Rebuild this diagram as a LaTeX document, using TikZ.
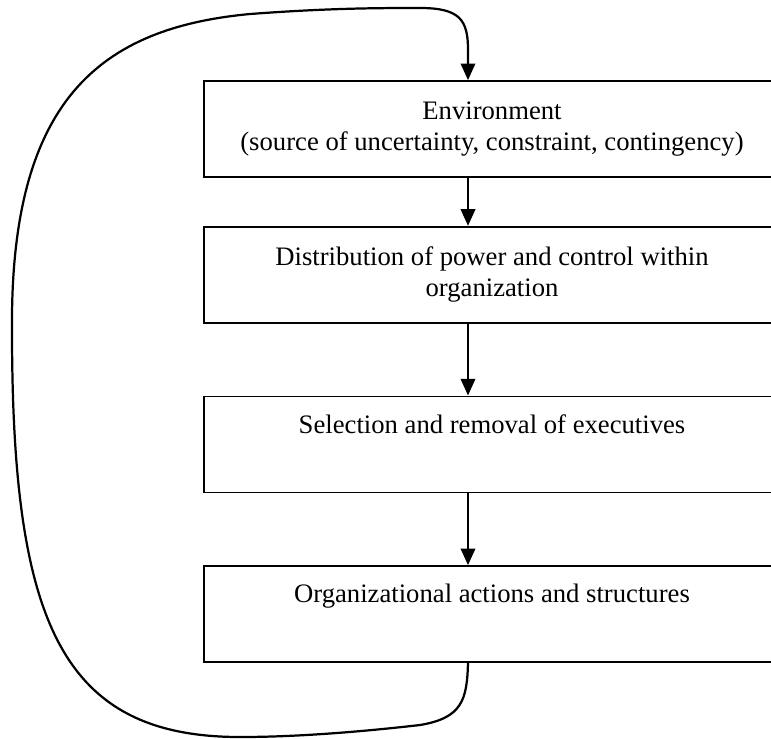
\documentclass[tikz,border=0pt]{standalone}
\usepackage{fontspec}
\setmainfont{Liberation Serif}
\usetikzlibrary{arrows.meta,positioning}

\begin{document}
\begin{tikzpicture}[x=0.45pt,y=-0.45pt,
  box/.style={draw,line width=0.75pt,minimum width=259.2pt,minimum height=43.2pt,inner sep=0pt,align=center,font=\fontsize{12}{14}\selectfont},
  oneline/.style={text depth=18.5pt},
  arr/.style={-{Triangle[width=6.5pt,length=7.5pt]},line width=1pt}
]
  \useasboundingbox (0,0) rectangle (771,738);
  \node[box] (env) at (492,129) {Environment\\(source of uncertainty, constraint, contingency)};
  \node[box,below=21.6pt of env] (power) {Distribution of power and control within\\organization};
  \node[box,oneline,below=32.4pt of power] (exec) {Selection and removal of executives};
  \node[box,oneline,below=32.4pt of exec] (org) {Organizational actions and structures};
  \coordinate (spine) at (468,0);
  \draw[arr] (env.south -| spine) -- (power.north -| spine);
  \draw[arr] (power.south -| spine) -- (exec.north -| spine);
  \draw[arr] (exec.south -| spine) -- (org.north -| spine);
  % feedback loop
  \draw[arr] (org.south -| spine)
    .. controls (467,700) and (462,718) .. (420,725)
    .. controls (350,733) and (290,737) .. (240,737)
    .. controls (60,737) and (12,620) .. (12,330)
    .. controls (10,100) and (100,28) .. (250,14)
    .. controls (330,8) and (380,8) .. (420,8)
    .. controls (460,8) and (468,20) .. (468,50)
    -- (env.north -| spine);
\end{tikzpicture}
\end{document}
